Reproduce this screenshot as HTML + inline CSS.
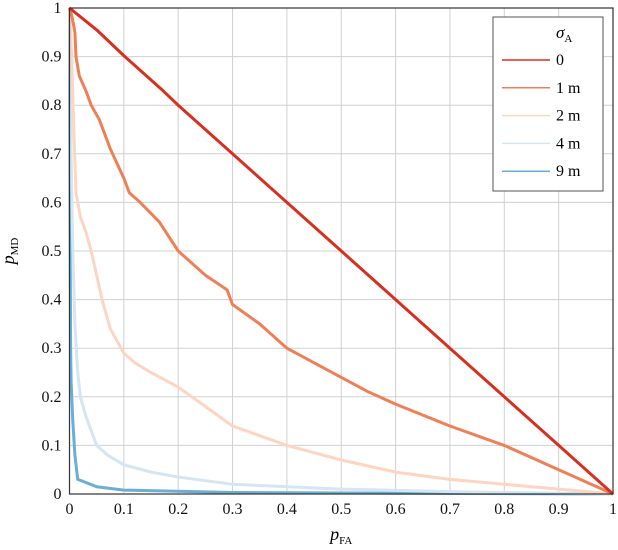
<!DOCTYPE html>
<html><head><meta charset="utf-8"><style>
body{margin:0;background:#fff;}
svg{display:block;font-family:"Liberation Serif",serif;}
</style></head><body>
<svg id="chart" width="618" height="550" viewBox="0 0 618 550"></svg>
<script>
const xTicks=[0,0.1,0.2,0.3,0.4,0.5,0.6,0.7,0.8,0.9,1];
const yTicks=[0,0.1,0.2,0.3,0.4,0.5,0.6,0.7,0.8,0.9,1];
const tickLabels=["0","0.1","0.2","0.3","0.4","0.5","0.6","0.7","0.8","0.9","1"];
const seriesNames=["0","1 m","2 m","4 m","9 m"];
const seriesColors=["#d7301f","#ef7f56","#fdd5c2","#d3e6f2","#6aaed6"];
const s0x=[0,0.05,0.1,0.167,0.2,0.3,0.5,0.7,0.9,1];
const s0y=[1,0.955,0.902,0.835,0.8,0.7,0.5,0.3,0.1,0];
const s1x=[0,0.005,0.01,0.012,0.018,0.03,0.04,0.055,0.075,0.1,0.11,0.13,0.165,0.2,0.25,0.29,0.3,0.35,0.4,0.45,0.5,0.55,0.6,0.7,0.8,0.9,1];
const s1y=[1,0.98,0.95,0.9,0.86,0.83,0.8,0.77,0.71,0.65,0.62,0.6,0.56,0.5,0.45,0.42,0.39,0.35,0.3,0.27,0.24,0.21,0.185,0.14,0.1,0.05,0];
const s2x=[0,0.004,0.008,0.012,0.02,0.03,0.04,0.06,0.075,0.1,0.12,0.15,0.2,0.25,0.3,0.35,0.4,0.5,0.6,0.7,0.8,0.9,1];
const s2y=[1,0.9,0.75,0.62,0.57,0.54,0.5,0.4,0.34,0.29,0.27,0.25,0.22,0.18,0.14,0.12,0.1,0.07,0.045,0.03,0.02,0.01,0];
const s3x=[0,0.003,0.006,0.01,0.015,0.02,0.03,0.04,0.05,0.07,0.1,0.15,0.2,0.3,0.5,0.7,1];
const s3y=[1,0.7,0.5,0.35,0.25,0.2,0.16,0.13,0.1,0.08,0.06,0.045,0.035,0.02,0.01,0.005,0];
const s4x=[0,0.001,0.002,0.003,0.006,0.01,0.015,0.02,0.05,0.1,0.3,1];
const s4y=[1,0.6,0.3,0.23,0.15,0.08,0.03,0.028,0.015,0.008,0.003,0];
const X0=69.5,X1=613,Y0=494,Y1=8;
const sx=v=>X0+v*(X1-X0), sy=v=>Y0-v*(Y0-Y1);
const svg=document.getElementById('chart');
const NS='http://www.w3.org/2000/svg';
function mk(tag,attrs,parent){const e=document.createElementNS(NS,tag);for(const k in attrs)e.setAttribute(k,attrs[k]);(parent||svg).appendChild(e);return e;}
const grid=mk('g',{});


xTicks.forEach((t,i)=>{
  const l=mk('line',{x1:sx(t),x2:sx(t),y1:Y1,y2:Y0,stroke:'#d0d0d0','stroke-width':1},grid);
  
  
  const tx=mk('text',{x:sx(t),y:Y0+20,'text-anchor':'middle','font-size':16,fill:'#111'});
  tx.textContent=tickLabels[i];
  
  
});
yTicks.forEach((t,i)=>{
  const l=mk('line',{x1:X0,x2:X1,y1:sy(t),y2:sy(t),stroke:'#d0d0d0','stroke-width':1},grid);
  
  
  const tx=mk('text',{x:X0-8,y:sy(t)+5,'text-anchor':'end','font-size':16,fill:'#111'});
  tx.textContent=tickLabels[i];
  
  
});
const xs=[s0x,s1x,s2x,s3x,s4x], ys=[s0y,s1y,s2y,s3y,s4y];
const order=[4,3,2,1,0];
order.forEach(i=>{
  const d=xs[i].map((v,j)=>(j?'L':'M')+sx(v).toFixed(1)+','+sy(ys[i][j]).toFixed(1)).join('');
  const p=mk('path',{d:d,fill:'none',stroke:seriesColors[i],'stroke-width':3,'stroke-linejoin':'round'});
  
  
});
const frame=mk('rect',{x:X0,y:Y1,width:X1-X0,height:Y0-Y1,fill:'none',stroke:'#333','stroke-width':1.2});


const xl=mk('text',{x:(X0+X1)/2,y:540,'text-anchor':'middle','font-size':18,'font-style':'italic'});
xl.innerHTML='p<tspan font-size="11" font-style="normal" dy="4">FA</tspan>';


const yl=mk('text',{transform:'translate(14,251) rotate(-90)','text-anchor':'middle','font-size':18,'font-style':'italic'});
yl.innerHTML='p<tspan font-size="11" font-style="normal" dy="4">MD</tspan>';


const lg=mk('g',{});


mk('rect',{x:493,y:17,width:110,height:174,fill:'#fff',stroke:'#555','stroke-width':1},lg);
const lt=mk('text',{x:556,y:38,'font-size':17,'font-style':'italic'},lg);
lt.innerHTML='σ<tspan font-size="11" font-style="normal" dy="4">A</tspan>';


seriesNames.forEach((n,i)=>{
  const y=60+i*27.8;
  const g=mk('g',{},lg);
  
  
  mk('line',{x1:502,x2:550,y1:y,y2:y,stroke:seriesColors[i],'stroke-width':1.5},g);
  const t=mk('text',{x:556,y:y+5,'font-size':16},g);
  t.textContent=n;
});
</script>
</body></html>
